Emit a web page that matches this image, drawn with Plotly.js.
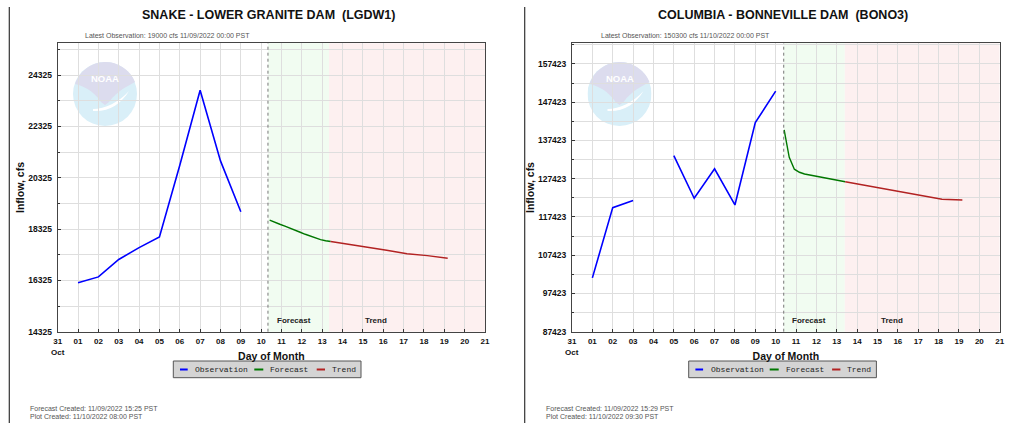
<!DOCTYPE html>
<html><head><meta charset="utf-8">
<script src="https://cdn.plot.ly/plotly-3.0.1.min.js"></script>
<style>html,body{margin:0;padding:0;background:#fff}#chart{width:1024px;height:423px}</style>
</head><body><div id="chart"></div>
<script>
// ---------- tick labels ----------
const dayTicks = ["2022-10-31","2022-11-01","2022-11-02","2022-11-03","2022-11-04","2022-11-05","2022-11-06",
  "2022-11-07","2022-11-08","2022-11-09","2022-11-10","2022-11-11","2022-11-12","2022-11-13","2022-11-14",
  "2022-11-15","2022-11-16","2022-11-17","2022-11-18","2022-11-19","2022-11-20","2022-11-21"];
const dayTickText = ["31","01","02","03","04","05","06","07","08","09","10","11","12","13","14","15","16","17","18","19","20","21"];
const legendNames = ["Observation","Forecast","Trend"];

// ---------- Snake - Lower Granite Dam (LGDW1) ----------
const obsTimesL = ["2022-11-01 00:00","2022-11-02 00:00","2022-11-03 00:00","2022-11-04 00:00","2022-11-05 00:00",
  "2022-11-06 00:00","2022-11-07 00:00","2022-11-08 00:00","2022-11-09 00:00"];
const obsFlowL = [16230,16460,17140,17600,18020,20810,23730,20980,19000];
const fcstTimes = ["2022-11-10 10:00","2022-11-10 16:00","2022-11-10 22:00","2022-11-11 04:00","2022-11-11 10:00",
  "2022-11-11 16:00","2022-11-11 22:00","2022-11-12 04:00","2022-11-12 10:00","2022-11-12 16:00",
  "2022-11-12 22:00","2022-11-13 04:00","2022-11-13 10:00"];
const fcstFlowL = [18670,18580,18510,18440,18350,18270,18200,18120,18040,17970,17910,17870,17840];
const trendTimes = ["2022-11-13 10:00","2022-11-14 04:00","2022-11-15 04:00","2022-11-16 04:00",
  "2022-11-17 04:00","2022-11-18 04:00","2022-11-19 04:00"];
const trendFlowL = [17840,17750,17640,17500,17360,17290,17185];
const plotCreatedL = "2022-11-10 08:00", shadeEndL = "2022-11-13 08:00";

// ---------- Columbia - Bonneville Dam (BONO3) ----------
const obsTimesR = ["2022-11-01 00:00","2022-11-02 00:00","2022-11-03 00:00","2022-11-04 00:00","2022-11-05 00:00",
  "2022-11-06 00:00","2022-11-07 00:00","2022-11-08 00:00","2022-11-09 00:00","2022-11-10 00:00"];
const obsFlowR = [101500,119850,121700,null,133450,122300,130000,120550,142080,150300];
const fcstFlowR = [140200,133000,129900,129100,128650,128400,128200,128000,127820,127520,127200,126900,126620];
const trendFlowR = [126620,125900,124900,123920,123010,122030,121860];
const plotCreatedR = "2022-11-10 09:30", shadeEndR = "2022-11-13 09:30";

// ---------- helpers ----------
const W = 1024, H = 423;
const px = x => x / W, py = y => 1 - y / H;
const FONT = "Liberation Sans, Arial, sans-serif";
const MONO = "Liberation Mono, DejaVu Sans Mono, monospace";
const COLORS = ["#0000ff", "#007700", "#b22222"];

function traces(xa, ya, obsT, obsV, fV, tV) {
  return [
    {x: obsT, y: obsV, xaxis: xa, yaxis: ya, mode: "lines", name: legendNames[0], line: {color: COLORS[0], width: 1.6}, connectgaps: false, showlegend: false},
    {x: fcstTimes, y: fV, xaxis: xa, yaxis: ya, mode: "lines", name: legendNames[1], line: {color: COLORS[1], width: 1.4}, showlegend: false},
    {x: trendTimes, y: tV, xaxis: xa, yaxis: ya, mode: "lines", name: legendNames[2], line: {color: COLORS[2], width: 1.4}, showlegend: false}
  ];
}

const data = [
  ...traces("x", "y", obsTimesL, obsFlowL, fcstFlowL, trendFlowL),
  ...traces("x2", "y2", obsTimesR, obsFlowR, fcstFlowR, trendFlowR)
];

const yDom = [py(331.7), py(43.3)];
function xAxis(dom, anchor) {
  return {
    domain: dom, anchor: anchor, type: "date", range: ["2022-10-31", "2022-11-21"],
    tickmode: "array", tickvals: dayTicks, ticktext: dayTickText,
    ticks: "inside", ticklen: 3, tickcolor: "#333", ticklabelstandoff: 2,
    showgrid: true, gridcolor: "#dedede", gridwidth: 1,
    showline: true, mirror: true, linecolor: "#444", linewidth: 1, zeroline: false,
    tickfont: {family: FONT, size: 8, weight: "bold", color: "#111"},
    title: {text: "Day of Month", font: {family: FONT, size: 10.5, weight: "bold", color: "#111"}, standoff: 7},
    automargin: false, fixedrange: true
  };
}
function yAxis(range, t0, dt, minorDt, anchor) {
  return {
    domain: yDom, anchor: anchor, range: range, tick0: t0, dtick: dt, tickformat: "d",
    ticks: "inside", ticklen: 3, tickcolor: "#333", ticklabelstandoff: 3,
    minor: {tick0: t0, dtick: minorDt, showgrid: true, gridcolor: "#dedede", ticks: "inside", ticklen: 2, tickcolor: "#333"},
    showgrid: true, gridcolor: "#dedede", gridwidth: 1,
    showline: true, mirror: true, linecolor: "#444", linewidth: 1, zeroline: false,
    tickfont: {family: FONT, size: 8.5, weight: "bold", color: "#111"},
    title: {text: "Inflow, cfs", font: {family: FONT, size: 10.5, weight: "bold", color: "#111"}, standoff: 1},
    automargin: false, fixedrange: true
  };
}

function shading(xa, ya, start, end) {
  return [
    {type: "rect", xref: xa, yref: ya + " domain", x0: start, x1: end, y0: 0, y1: 1, fillcolor: "#f1fcf1", line: {width: 0}, layer: "below"},
    {type: "rect", xref: xa, yref: ya + " domain", x0: end, x1: "2022-11-21", y0: 0, y1: 1, fillcolor: "#fdf0f0", line: {width: 0}, layer: "below"},
    {type: "line", xref: xa, yref: ya + " domain", x0: start, x1: start, y0: 0, y1: 1, line: {color: "#777", width: 1, dash: "dot"}, layer: "above"}
  ];
}

function legendBox(x0) {
  const y0 = 361, y1 = 377.7, ym = 369.5;
  const shapes = [{type: "rect", xref: "paper", yref: "paper", x0: px(x0), x1: px(x0 + 187.7), y0: py(y1), y1: py(y0),
    fillcolor: "#d4d4d4", line: {color: "#555", width: 1}}];
  const anns = [];
  const sym = [[6.7, 14.4], [81, 90], [143.4, 151.7]];
  const txt = [20, 95, 156.7];
  for (let i = 0; i < 3; i++) {
    shapes.push({type: "line", xref: "paper", yref: "paper", x0: px(x0 + sym[i][0]), x1: px(x0 + sym[i][1]), y0: py(ym), y1: py(ym),
      line: {color: COLORS[i], width: 2}});
    anns.push({xref: "paper", yref: "paper", x: px(x0 + txt[i]), y: py(ym), xanchor: "left", yanchor: "middle",
      text: legendNames[i], showarrow: false, font: {family: MONO, size: 8, color: "#222"}});
  }
  return {shapes, anns};
}

const logoSvg = '<svg xmlns="http://www.w3.org/2000/svg" viewBox="0 0 64 64">' +
  '<circle cx="32" cy="32" r="32" fill="#d9eff8"/>' +
  '<path d="M2,22 A32,32 0 0 1 62,20 C55,24 45,28 36,40 L32,43 L28,40 C20,28 10,24 2,22 Z" fill="#dcdcee"/>' +
  '<path d="M20,47 C32,47 46,40 56,29 C48,42 36,50 20,49 Z" fill="#ffffff"/></svg>';
const logoSrc = "data:image/svg+xml;base64," + btoa(logoSvg);

const legL = legendBox(173.3), legR = legendBox(688.7);

const txtAnn = (x, y, text, size, color, weight, anchor) => ({xref: "paper", yref: "paper", x: px(x), y: py(y),
  xanchor: anchor || "left", yanchor: "middle", text: text, showarrow: false,
  font: {family: FONT, size: size, color: color, weight: weight || "normal"}});

const annotations = [
  txtAnn(268, 15, "SNAKE - LOWER GRANITE DAM&nbsp;&nbsp;(LGDW1)", 12.5, "#111", "bold", "center"),
  txtAnn(783, 15, "COLUMBIA - BONNEVILLE DAM&nbsp;&nbsp;(BONO3)", 12.5, "#111", "bold", "center"),
  txtAnn(83.3, 35, "Latest Observation: 19000 cfs 11/09/2022 00:00 PST", 7, "#555"),
  txtAnn(598.7, 35, "Latest Observation: 150300 cfs 11/10/2022 00:00 PST", 7, "#555"),
  txtAnn(57.7, 352, "Oct", 8, "#111", "bold", "center"),
  txtAnn(572, 352, "Oct", 8, "#111", "bold", "center"),
  txtAnn(275, 320, "Forecast", 8, "#222", "bold"),
  txtAnn(363.3, 320, "Trend", 8, "#222", "bold"),
  txtAnn(790.3, 320, "Forecast", 8, "#222", "bold"),
  txtAnn(878.7, 320, "Trend", 8, "#222", "bold"),
  txtAnn(104.5, 78.5, "NOAA", 9.5, "#ffffff", "bold", "center"),
  txtAnn(619.5, 78.5, "NOAA", 9.5, "#ffffff", "bold", "center"),
  txtAnn(28.3, 408.3, "Forecast Created: 11/09/2022 15:25 PST", 7, "#555"),
  txtAnn(28.3, 416.7, "Plot Created: 11/10/2022 08:00 PST", 7, "#555"),
  txtAnn(543.7, 408.3, "Forecast Created: 11/09/2022 15:29 PST", 7, "#555"),
  txtAnn(543.7, 416.7, "Plot Created: 11/10/2022 09:30 PST", 7, "#555"),
  ...legL.anns, ...legR.anns
];

const shapes = [
  ...shading("x", "y", plotCreatedL, shadeEndL),
  ...shading("x2", "y2", plotCreatedR, shadeEndR),
  {type: "line", xref: "paper", yref: "paper", x0: px(9.3), x1: px(9.3), y0: py(7), y1: 0, line: {color: "#333", width: 1.2}},
  {type: "line", xref: "paper", yref: "paper", x0: px(524.7), x1: px(524.7), y0: py(7), y1: 0, line: {color: "#333", width: 1.2}},
  ...legL.shapes, ...legR.shapes
];

const layout = {
  width: W, height: H, margin: {l: 0, r: 0, t: 0, b: 0},
  paper_bgcolor: "#ffffff", plot_bgcolor: "#ffffff", showlegend: false,
  font: {family: FONT},
  xaxis: xAxis([px(57.7), px(485)], "y"),
  yaxis: yAxis([14325, 25560], 14325, 2000, 1000, "x"),
  xaxis2: xAxis([px(572), px(999.7)], "y2"),
  yaxis2: yAxis([87423, 162810], 87423, 10000, 5000, "x2"),
  shapes: shapes,
  annotations: annotations,
  images: [
    {source: logoSrc, xref: "paper", yref: "paper", x: px(73), y: py(62), sizex: px(64), sizey: 64 / H, sizing: "stretch", xanchor: "left", yanchor: "top", layer: "below", opacity: 1},
    {source: logoSrc, xref: "paper", yref: "paper", x: px(587.5), y: py(62), sizex: px(64), sizey: 64 / H, sizing: "stretch", xanchor: "left", yanchor: "top", layer: "below", opacity: 1}
  ]
};

Plotly.newPlot("chart", data, layout, {displayModeBar: false, staticPlot: true});
</script></body></html>
